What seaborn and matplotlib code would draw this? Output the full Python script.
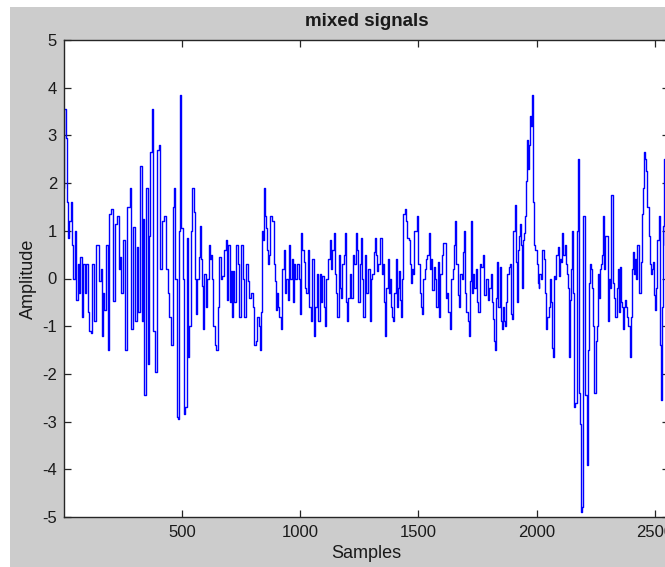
import matplotlib
matplotlib.use("Agg")
import matplotlib.pyplot as plt
from matplotlib.patches import Rectangle
import seaborn as sns
import pandas as pd

# ---- data (local extremes of the signal) ----
samples = [
    1, 2, 7, 10, 13, 18, 25, 31, 37, 41, 48, 54, 61, 65, 73, 78, 86, 93, 96, 103,
    110, 116, 124, 131, 141, 147, 152, 158, 162, 169, 172, 181, 188, 195, 203, 212,
    220, 229, 234, 240, 246, 254, 261, 275, 280, 285, 296, 304, 311, 316, 326, 330,
    336, 343, 353, 359, 364, 368, 374, 380, 390, 400, 405, 411, 421,
    428, 435, 442, 449, 456, 463, 468, 475, 479, 483, 486, 490, 494, 499, 506, 510,
    516, 521, 524, 528, 534, 541, 545, 551, 555, 561, 566, 573, 576, 580, 586, 590,
    597, 603, 609, 616, 620, 626, 630, 634, 640, 647, 654, 660, 665, 675, 682, 686,
    691, 696, 705, 709, 713, 717, 725, 732, 739, 746, 753, 760, 767, 774, 781, 785,
    795, 802, 809, 813, 821, 826, 830, 835, 839, 843, 847, 852, 856, 860, 866, 870,
    874,
    884, 890, 894, 897, 904, 908, 915, 922, 927, 931, 937, 944, 948, 953, 961, 966,
    972, 976, 982, 986, 990, 996, 1000, 1007, 1011, 1017, 1023, 1028, 1035, 1041,
    1047, 1054, 1058, 1065, 1073, 1079, 1085, 1090, 1096, 1103, 1107, 1113, 1120,
    1127, 1131, 1140, 1146, 1150, 1154, 1160, 1165, 1171, 1175, 1181, 1186, 1191,
    1195, 1201, 1206, 1212, 1218, 1226, 1232, 1237, 1243, 1249, 1254, 1260, 1264,
    1270, 1275, 1282, 1290, 1297, 1301, 1308, 1314, 1319, 1323, 1328, 1333,
    1343, 1349, 1353, 1358, 1362, 1367, 1372, 1376, 1382, 1386, 1391, 1396, 1400,
    1406, 1410, 1414, 1420, 1424, 1428, 1434, 1439, 1445, 1449, 1455, 1461, 1465,
    1469, 1473, 1479, 1485, 1490, 1494, 1499, 1503, 1507, 1513, 1518, 1524, 1530,
    1535, 1541, 1547, 1550, 1555, 1561, 1567, 1572, 1578, 1583, 1589, 1595, 1600,
    1607, 1612, 1617, 1623, 1629, 1636, 1641, 1647, 1653, 1657, 1663, 1668, 1674,
    1679, 1685, 1689, 1695, 1699, 1705, 1711, 1715, 1719, 1723, 1727, 1733, 1739,
    1744, 1750, 1757, 1763, 1770, 1774,
    1784, 1791, 1797, 1803, 1808, 1814, 1819, 1824, 1827, 1831, 1834, 1841, 1845,
    1851, 1855, 1859, 1865, 1869, 1873, 1879, 1884, 1890, 1894, 1899, 1904, 1910,
    1914, 1918, 1923, 1928, 1932, 1937, 1940, 1944, 1949, 1954, 1956, 1961, 1965,
    1969, 1975, 1978, 1982, 1986, 1992, 1997, 2003, 2006, 2010, 2014, 2020, 2027,
    2031, 2037, 2043, 2048, 2054, 2060, 2064, 2067, 2071, 2075, 2081, 2086, 2091,
    2095, 2099, 2105, 2110, 2116, 2122, 2124, 2130, 2134, 2137, 2141, 2147, 2151,
    2156, 2161, 2167, 2172, 2177, 2181, 2184, 2188, 2194, 2198, 2204, 2209, 2215,
    2220, 2223, 2228, 2233, 2237, 2242, 2247, 2251, 2255, 2259, 2262, 2266, 2271,
    2275, 2279, 2285, 2289, 2293, 2299, 2303, 2310, 2313, 2319, 2323, 2327, 2331,
    2336, 2341, 2346, 2350, 2354, 2357, 2363, 2367, 2372, 2377, 2381, 2385, 2391,
    2396, 2401, 2405, 2409, 2415, 2419, 2423, 2429, 2433, 2437, 2442, 2446, 2451,
    2457, 2461, 2466, 2471, 2477, 2480, 2485, 2490, 2494, 2499, 2504, 2508, 2514,
    2518, 2522, 2525, 2529, 2533, 2538, 2540, 2543, 2550, 2556, 2560,
]

amplitude = [
    1.9, 3.55, 3.55, 2.95, 1.6, 0.85, 1.2, 1.6, 0.7, 0.0, 1.0, -0.45, 0.3, -0.3, 0.45,
    -0.8, 0.3, -0.3, 0.3, -0.7, -1.1, -1.15, 0.3, -0.9, 0.7, 0.7, -0.05, 0.2, -1.2,
    -0.3, -0.65, 0.7, -1.5, 1.35, 1.45, -0.47, 1.15, 1.3, 0.2, 0.45, -0.3, 0.8, -1.5,
    1.5, 1.9, -1.05, 1.07, -0.9, 0.65, -0.7, 2.35, -0.9, 1.25, -2.45, 1.9, -1.8, 0.9,
    2.65, 3.55, -1.1, -1.95, 2.7, 2.8, 0.2, 1.2,
    1.3, 0.2, -0.3, -0.8, -1.4, 1.5, 1.9, 0.0, -2.9, -2.95, -2.2, 1.0, 3.85, 1.05, 0.0,
    -2.85, -2.7, -0.85, 0.85, -1.65, -1.0, 1.0, 1.9, 1.4, 0.0, -0.75, 0.0, 0.45, 1.1,
    0.4, -0.15, -1.05, 0.1, -0.6, 0.0, 0.7, 0.4, 0.5, 0.0, -1.0, -1.4, -1.5, -0.6,
    0.45, 0.0, 0.05, 0.6, 0.8, -0.45, 0.7, -0.5, 0.15, -0.8, 0.15, -0.5, 0.7, 0.3,
    -0.8, 0.7, 0.0, -0.8, 0.3, -0.05, -0.4, -0.3, -0.6, -1.4, -1.3, -0.8, -1.0, -1.5,
    -0.7, 1.0, 0.8, 1.9, 1.3, 1.05, 0.6, 0.3, 0.5, 1.3,
    1.2, 0.3, -0.05, -0.65, -0.3, -0.6, -0.8, -1.05, 0.2, 0.6, -0.3, 0.0, -0.45, 0.7,
    0.0, 0.4, -0.5, 0.3, 0.0, 0.1, 0.3, 0.0, -0.75, 0.95, 0.6, 0.35, -0.2, -0.3, 0.6,
    -0.6, -0.9, 0.4, -1.2, -0.6, 0.1, -0.9, 0.1, -0.5, 0.05, -0.6, -1.0, 0.0, 0.4,
    0.8, 0.2, 0.6, 0.95, 0.1, -0.3, -0.8, 0.5, -0.2, -0.4, 0.3, 0.5, 0.95, -0.5,
    -0.9, -0.4, 0.1, -0.4, 0.5, 0.3, 0.95, 0.6, -0.5, 0.3, 0.85, 0.0, -0.8, 0.5,
    -0.3, 0.2, -0.9, 0.0, 0.1, 0.55, 0.85, 0.5, 0.15, 0.3,
    0.85, 0.1, 0.3, -0.5, -1.2, -0.2, 0.4, -0.3, 0.0, -0.6, -0.8, -0.9, -0.3, 0.4,
    -0.6, -0.2, 0.15, -0.45, -0.8, 0.0, 1.35, 1.45, 1.2, 0.85, 0.8, 0.3, -0.1, 0.2,
    0.1, 1.0, 1.0, 1.3, 0.3, 0.3, -0.3, -0.6, -0.75, 0.0, 0.2, 0.4, 0.5, 0.95, 0.2,
    0.4, -0.25, 0.25, 0.0, -0.6, 0.35, -0.8, 0.1, 0.5, 0.75, 0.75, -0.4, -0.3, -0.7,
    -1.05, 0.0, 0.2, 0.7, 1.2, 0.3, -0.35, -0.6, 0.1, 0.0, 0.55, 1.0, -0.3, -0.7,
    -0.9, -1.2, -0.05, 1.2, -0.3, 0.1, -0.2, 0.2, -0.5, -0.7, 0.3, 0.25, 0.5,
    -0.35, 0.0, -0.45, -0.2, 0.1, -0.5, -0.85, -1.3, -1.5, -0.4, 0.35, -0.6, 0.25,
    -0.9, -1.05, -0.6, -0.9, -1.0, -0.5, 0.1, 0.25, 0.3, -0.75, -0.85, 1.0, 1.55,
    0.35, -0.5, 0.6, 0.9, 1.15, 0.7, -0.2, 0.8, 0.95, 1.3, 2.05, 2.9, 2.3, 2.8, 3.4,
    3.2, 3.85, 1.6, 0.7, 0.6, 0.3, -0.1, -0.2, 0.1, 0.0, 0.6, 0.4, -0.3, -1.05,
    -0.8, -0.6, 0.0, -0.5, -1.45, -1.65, 0.05, 0.0, 0.5, 0.65, 0.05, 0.4, 0.35, 0.95,
    0.5, 0.7, 0.3, 0.1, -0.2, -1.65, -0.45, 0.2, 1.0, -0.3, -2.7, -2.6, 1.0, 2.5,
    -2.4, -3.05, -4.9, -4.8, 1.3, 1.3, -2.45, -3.9,
    -1.5, -0.1, 0.3, 0.2, -0.2, -1.0, -2.4, -1.3, -1.3, -1.0, 0.1, -0.4, 0.2, 0.3,
    0.5, 1.3, 0.2, 0.9, 0.9, -0.9, 0.0, -0.2, 1.75, 0.0, -0.1, -0.4, -0.8, -0.2, 0.2,
    -0.7, 0.25, -0.5, -0.6, -1.05, -0.6, -0.45, -0.6, -0.8, -1.0, -1.65, -0.8, 0.2,
    0.55, 0.1, 0.4, 0.0, 0.7, 0.35, -0.3, 0.35, 1.35, 1.9, 2.65, 2.5, 2.25, 1.5, 0.9,
    0.3, 0.1, 0.2, 0.35, -0.35, -0.65, -0.2, 0.8, 1.3, 1.1, -1.4, -2.55, -0.6, 1.1,
    2.5, 0.7, 1.5, -0.5, 0.3,
]

x_ticks = [500, 1000, 1500, 2000, 2500]
y_ticks = [-5, -4, -3, -2, -1, 0, 1, 2, 3, 4, 5]
title_text = "mixed signals"
x_label = "Samples"
y_label = "Amplitude"

df = pd.DataFrame({"Samples": samples, "Amplitude": amplitude})

sns.set_style("ticks")
plt.rcParams["font.family"] = ["Liberation Sans", "DejaVu Sans"]

W, H = 665, 567
fig = plt.figure(figsize=(W / 100, H / 100), dpi=100, facecolor="white")
# MATLAB grey figure area (reference has a thin white margin at top and left)
fig.patches.append(Rectangle((10 / W, 0), 1 - 10 / W, 1 - 7 / H,
                             transform=fig.transFigure, facecolor="#cccccc",
                             edgecolor="none", zorder=-10))

left, right_px, top_px, bottom_px = 64, 669, 40, 517
ax = fig.add_axes([left / W, 1 - bottom_px / H, (right_px - left) / W,
                   (bottom_px - top_px) / H])
ax.set_facecolor("white")

sns.lineplot(data=df, x="Samples", y="Amplitude", ax=ax, color="#0000ff",
             linewidth=1.0, estimator=None, sort=False, drawstyle="steps-mid")

ax.set_xlim(0, 2560)
ax.set_ylim(-5, 5)
ax.set_xticks(x_ticks)
ax.set_xticklabels([str(t) for t in x_ticks])
ax.set_yticks(y_ticks)
ax.set_yticklabels([str(t) for t in y_ticks])

for s in ax.spines.values():
    s.set_visible(True)
    s.set_color("#262626")
    s.set_linewidth(1.0)

ax.tick_params(direction="in", length=5, width=0.9, color="#262626",
               top=True, right=True, labelsize=12, labelcolor="#1a1a1a")
ax.tick_params(axis="x", pad=6)
ax.tick_params(axis="y", pad=5)

ax.set_title(title_text, fontsize=13.5, fontweight="bold", color="#1a1a1a", pad=10)
ax.set_xlabel(x_label, fontsize=13, color="#1a1a1a", labelpad=3)
ax.set_ylabel(y_label, fontsize=13, color="#1a1a1a", labelpad=4)

fig.savefig("out.png", dpi=100, facecolor=fig.get_facecolor())
